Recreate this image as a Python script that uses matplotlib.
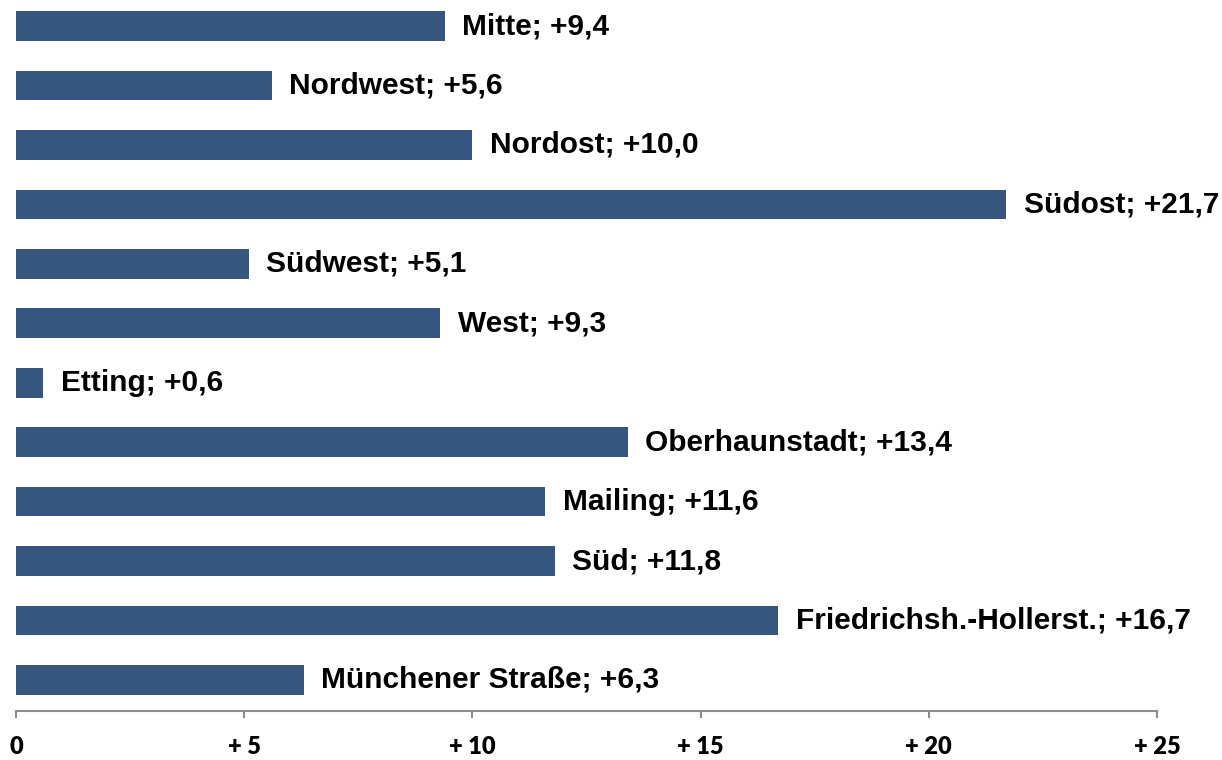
import matplotlib
matplotlib.use("Agg")
import matplotlib.pyplot as plt

categories = ["Mitte", "Nordwest", "Nordost", "Südost", "Südwest", "West", "Etting",
              "Oberhaunstadt", "Mailing", "Süd", "Friedrichsh.-Hollerst.", "Münchener Straße"]
values = [9.4, 5.6, 10.0, 21.7, 5.1, 9.3, 0.6, 13.4, 11.6, 11.8, 16.7, 6.3]
tick_values = [0, 5, 10, 15, 20, 25]
tick_labels = ["0", "+ 5", "+ 10", "+ 15", "+ 20", "+ 25"]

W, H = 1222, 760
fig = plt.figure(figsize=(W / 100, H / 100), dpi=100)
ax = fig.add_axes([16 / W, (H - 711) / H, (1157 - 16) / W, 711 / H])

pos = list(range(len(categories)))
ax.barh(pos, values, height=0.5, color="#365680", edgecolor="none")

for p, v, c in zip(pos, values, categories):
    num = f"{v:.1f}".replace(".", ",")
    txt = f"{c}; +{num}"
    ax.annotate(txt, (v, p), xytext=(12.5, 0), textcoords="offset points",
                va="center", ha="left", fontsize=21.5, fontweight="bold",
                family="Liberation Sans", color="black")

ax.set_xlim(0, 25)
ax.set_ylim(11 + 31 / 59.45, -26 / 59.45)
ax.set_xticks(tick_values)
ax.set_xticklabels(tick_labels, fontsize=17, fontweight="heavy", family="Lato")
ax.set_yticks([])
for s in ["top", "right", "left"]:
    ax.spines[s].set_visible(False)
ax.spines["bottom"].set_color("#8c8c8c")
ax.spines["bottom"].set_linewidth(1.5)
ax.tick_params(axis="x", direction="out", length=5, width=1.5, color="#8c8c8c", pad=13)

fig.savefig("out.png", dpi=100)
